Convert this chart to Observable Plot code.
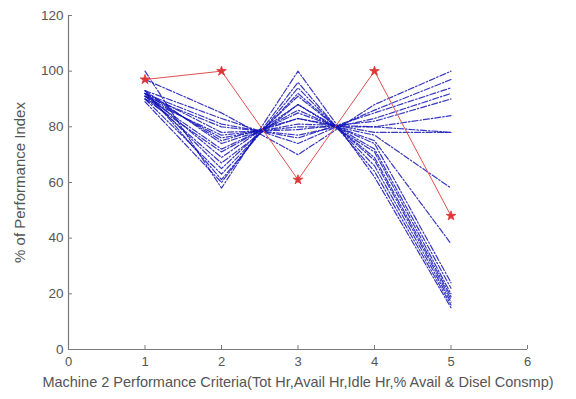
<!DOCTYPE html>
<html>
<head>
<meta charset="utf-8">
<script src="https://cdn.jsdelivr.net/npm/d3@7"></script>
<script src="https://cdn.jsdelivr.net/npm/@observablehq/plot@0.6"></script>
<style>
  html, body { margin: 0; padding: 0; background: #fff; }
  #chart { width: 576px; height: 399px; }
</style>
</head>
<body>
<div id="chart"></div>
<script>
// Criteria positions on the x axis
const criteria = [1, 2, 3, 4, 5];
const xTicks = [0, 1, 2, 3, 4, 5, 6];
const yTicks = [0, 20, 40, 60, 80, 100, 120];

// Highlighted (red) series
const redValues = [97, 100, 61, 100, 48];

// Blue dash-dot series (values at criteria 1..5)
const blue01 = [100, 58, 100, 62, 15];
const blue02 = [97, 85, 70, 88, 100];
const blue03 = [93, 83, 74, 86, 97];
const blue04 = [92, 81, 76, 85, 94];
const blue05 = [91, 80, 77, 83, 92];
const blue06 = [92, 78, 79, 82, 90];
const blue07 = [90, 77, 80, 80, 84];
const blue08 = [91, 76, 81, 80, 78];
const blue09 = [92, 75, 83, 78, 78];
const blue10 = [93, 74, 83, 77, 58];
const blue11 = [91, 72, 85, 75, 38];
const blue12 = [90, 71, 86, 74, 24];
const blue13 = [92, 69, 88, 72, 22];
const blue14 = [91, 67, 88, 71, 20];
const blue15 = [92, 65, 91, 69, 19];
const blue16 = [90, 63, 92, 68, 18];
const blue17 = [93, 61, 94, 66, 17];
const blue18 = [89, 60, 96, 64, 16];
const blueSeries = [blue01, blue02, blue03, blue04, blue05, blue06, blue07, blue08, blue09,
                    blue10, blue11, blue12, blue13, blue14, blue15, blue16, blue17, blue18];

const xTitle = "Machine 2 Performance Criteria(Tot Hr,Avail Hr,Idle Hr,% Avail & Disel Consmp)";
const yTitle = "% of Performance Index";

const blueRows = blueSeries.flatMap((vals, s) =>
  vals.map((v, i) => ({series: s, x: criteria[i], y: v})));
const redRows = redValues.map((v, i) => ({x: criteria[i], y: v}));

const axisColor = "#7a7a7a";
const textColor = "#555";

const chart = Plot.plot({
  width: 576,
  height: 399,
  marginLeft: 68,
  marginRight: 49,
  marginTop: 15,
  marginBottom: 50,
  style: {fontFamily: "'Liberation Sans', Arial, sans-serif", fontSize: "13px", color: textColor, background: "#fff"},
  x: {domain: [0, 6]},
  y: {domain: [0, 120]},
  marks: [
    Plot.ruleY([0], {stroke: axisColor, strokeWidth: 1.2}),
    Plot.ruleX([0], {stroke: axisColor, strokeWidth: 1.2}),
    Plot.axisX({ticks: xTicks, tickFormat: "d", tickSize: -4, tickPadding: 11, label: null, stroke: axisColor, fontSize: 13}),
    Plot.axisY({ticks: yTicks, tickFormat: "d", tickSize: -4, tickPadding: 9, label: null, stroke: axisColor, fontSize: 13.5}),
    Plot.line(blueRows, {x: "x", y: "y", z: "series", stroke: "#1515b5", strokeWidth: 1.2,
      strokeDasharray: "6,2,1.5,2", strokeOpacity: 0.85}),
    Plot.line(redRows, {x: "x", y: "y", stroke: "#e05050", strokeWidth: 1}),
    Plot.dot(redRows, {x: "x", y: "y", symbol: "star", r: 3, fill: "#e03535", stroke: "#e03535", strokeWidth: 0.8}),
    Plot.text([xTitle], {frameAnchor: "bottom", dy: 37, fontSize: 14.5, fill: textColor}),
    Plot.text([yTitle], {frameAnchor: "left", textAnchor: "middle", dx: -48, rotate: -90, fontSize: 15, fill: textColor})
  ]
});
document.getElementById("chart").appendChild(chart);
</script>
</body>
</html>
